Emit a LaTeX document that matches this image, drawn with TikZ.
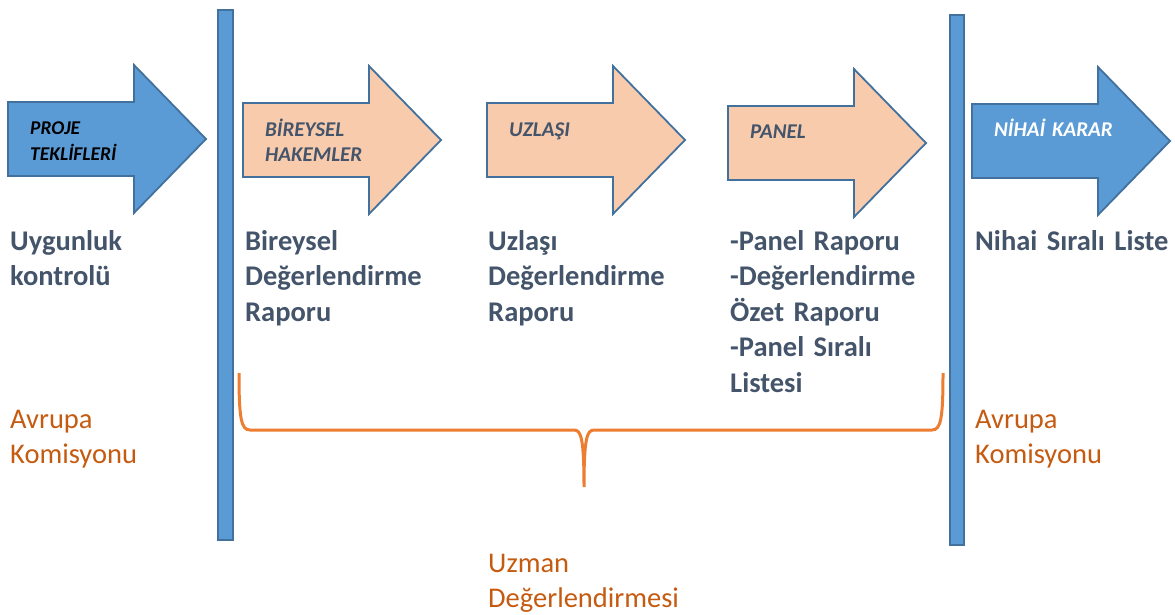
\documentclass[tikz,border=0pt]{standalone}
\usepackage{fontspec}
\setmainfont{Carlito}
\usetikzlibrary{positioning}

\definecolor{barblue}{HTML}{5B9BD5}
\definecolor{edgeblue}{HTML}{41719C}
\definecolor{peach}{HTML}{F8CBAD}
\definecolor{slate}{HTML}{44546A}
\definecolor{braceorange}{HTML}{ED7D31}
\definecolor{textorange}{HTML}{C55A11}

\begin{document}
\begin{tikzpicture}[x=1pt, y=-1pt,
    stagebox/.style={draw=edgeblue, line width=1.8pt, line join=miter},
    stagetext/.style={anchor=base west, inner sep=0pt, text width=140pt, align=left,
        font=\fontsize{#1}{25.5}\selectfont\bfseries\itshape},
    outcome/.style={anchor=base west, inner sep=0pt, text width=220pt, align=left,
        text=slate, font=\fontsize{28.5}{35.5}\selectfont\bfseries},
    actor/.style={anchor=base west, inner sep=0pt, text width=220pt, align=left,
        text=textorange, font=\fontsize{28.5}{35.5}\selectfont},
    divider/.style={fill=barblue, draw=edgeblue, line width=1.5pt}]
\useasboundingbox (0,0) rectangle (1175,615);

% stage arrows
\foreach \l/\c/\col/\tcol/\fs/\txt [count=\i] in {
    8/139/barblue/black/19.5/{PROJE\\TEKLİFLERİ},
    243/140/peach/slate/21/{BİREYSEL\\HAKEMLER},
    487/140/peach/slate/21/{UZLAŞI},
    728/143/peach/slate/21/{PANEL},
    972/141/barblue/white/21/{NİHAİ KARAR}}{
  \filldraw[stagebox, fill=\col] (\l,\c-37) -- (\l+126,\c-37) -- (\l+126,\c-74)
      -- (\l+198,\c) -- (\l+126,\c+74) -- (\l+126,\c+37) -- (\l,\c+37) -- cycle;
  \node[stagetext=\fs, text=\tcol] (stage\i) at (\l+22,\c-4) {\txt};
}

% phase dividers
\draw[divider] (218,10) rectangle (233,540);
\draw[divider] (950,15) rectangle (964,545);

% outcomes
\node[outcome] (uygunluk) at (10,250) {Uygunluk\\kontrolü};
\node[outcome] (bireysel) at (245,250) {Bireysel\\Değerlendirme\\Raporu};
\node[outcome] (uzlasi) at (488,250) {Uzlaşı\\Değerlendirme\\Raporu};
\node[outcome] (panel) at (730,250) {-Panel Raporu\\-Değerlendirme\\Özet Raporu\\-Panel Sıralı\\Listesi};
\node[outcome] (nihai) at (975,250) {Nihai Sıralı Liste};

% who does it
\node[actor] (komisyonL) at (10,428) {Avrupa\\Komisyonu};
\node[actor] (komisyonR) at (975,428) {Avrupa\\Komisyonu};
\node[actor] (uzman) at (488,572) {Uzman\\Değerlendirmesi};

\coordinate (braceL) at (239,373);
\coordinate (braceM) at (584,487);
\coordinate (braceR) at (943,373);
\draw[braceorange, line width=3pt]
  (braceL) .. controls (239,418) and (241,430) .. (250,430) -- (574,430)
  .. controls (581,430) and (584,438) .. (braceM)
  .. controls (584,438) and (587,430) .. (594,430) -- (932,430)
  .. controls (941,430) and (943,418) .. (braceR);
\end{tikzpicture}
\end{document}
